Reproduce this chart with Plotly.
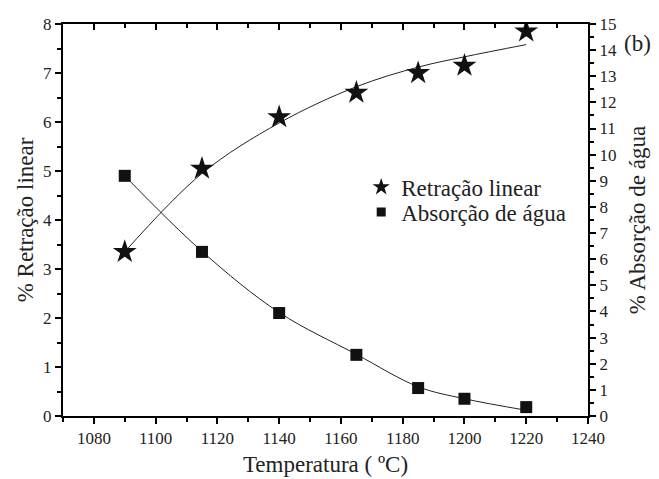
import plotly.graph_objects as go

temps = [1090, 1115, 1140, 1165, 1185, 1200, 1220]
retracao = [3.35, 5.05, 6.1, 6.6, 7.0, 7.15, 7.85]
absorcao = [9.19, 6.28, 3.94, 2.34, 1.07, 0.66, 0.34]
retracao_fit = [3.35, 4.95, 5.98, 6.72, 7.12, 7.33, 7.58]
absorcao_fit = [9.19, 6.3, 3.96, 2.36, 1.12, 0.66, 0.22]

FONT = "Liberation Serif, Times New Roman, serif"
fig = go.Figure()
fig.add_trace(go.Scatter(x=temps, y=retracao_fit, mode="lines", line=dict(color="#222", width=1, shape="spline"),
                         showlegend=False, hoverinfo="skip"))
fig.add_trace(go.Scatter(x=temps, y=absorcao_fit, mode="lines", line=dict(color="#222", width=1, shape="spline"),
                         showlegend=False, hoverinfo="skip", yaxis="y2"))
fig.add_trace(go.Scatter(x=temps, y=retracao, mode="markers", name="Retração linear", showlegend=False,
                         marker=dict(symbol="star", size=18, color="#111")))
fig.add_trace(go.Scatter(x=temps, y=absorcao, mode="markers", name="Absorção de água", yaxis="y2", showlegend=False,
                         marker=dict(symbol="square", size=12, color="#111")))
# legend entries (smaller symbols as in the reference), one legend per row
fig.add_trace(go.Scatter(x=[None], y=[None], mode="markers", name="Retração linear", legend="legend",
                         marker=dict(symbol="star", size=13, color="#111")))
fig.add_trace(go.Scatter(x=[None], y=[None], mode="markers", name="Absorção de água", legend="legend2",
                         marker=dict(symbol="square", size=9, color="#111")))
fig.add_trace(go.Scatter(x=[1070], y=[0], mode="markers", marker=dict(opacity=0), xaxis="x2",
                         showlegend=False, hoverinfo="skip"))

TICKFONT = dict(family=FONT, size=17, color="#222")
TITLEFONT = dict(family=FONT, size=23, color="#222")
axis_common = dict(showline=True, linecolor="black", linewidth=2, showgrid=False, zeroline=False,
                   tickfont=TICKFONT, tickcolor="black", ticklen=6, tickwidth=2)
minor_out = dict(ticks="outside", ticklen=4, tickcolor="black", tickwidth=1.5)
minor_in = dict(ticks="inside", ticklen=4, tickcolor="black", tickwidth=1.5)
legend_common = dict(xanchor="left", yanchor="middle", bgcolor="rgba(0,0,0,0)",
                     font=dict(family=FONT, size=23, color="#222"))

fig.update_layout(
    width=659, height=479,
    margin=dict(l=55, r=79, t=16, b=71, autoexpand=False),
    plot_bgcolor="white", paper_bgcolor="white",
    font=dict(family=FONT, color="#222"),
    xaxis=dict(range=[1070, 1240], dtick=20, ticks="outside", minor=dict(dtick=10, **minor_out),
               title=dict(text="Temperatura ( ºC)", font=TITLEFONT, standoff=8), **axis_common),
    xaxis2=dict(range=[1070, 1240], overlaying="x", side="top", anchor="y", dtick=20, ticks="inside",
                showticklabels=False, minor=dict(dtick=10, **minor_in), **axis_common),
    yaxis=dict(range=[0, 8], dtick=1, ticks="outside", minor=dict(dtick=0.5, **minor_out),
               title=dict(text="% Retração linear", font=TITLEFONT, standoff=3), **axis_common),
    yaxis2=dict(range=[0, 15], dtick=1, ticks="outside", overlaying="y", side="right",
                minor=dict(dtick=0.5, **minor_out),
                title=dict(text="% Absorção de água", font=TITLEFONT, standoff=13), **axis_common),
    legend=dict(x=0.568, y=0.584, **legend_common),
    legend2=dict(x=0.568, y=0.520, **legend_common),
    annotations=[dict(text="(b)", x=1.0, y=0.949, xref="paper", yref="paper", xanchor="left", yanchor="middle",
                      xshift=34, showarrow=False, font=dict(family=FONT, size=23, color="#222"))],
)
fig.write_html("out.html")
